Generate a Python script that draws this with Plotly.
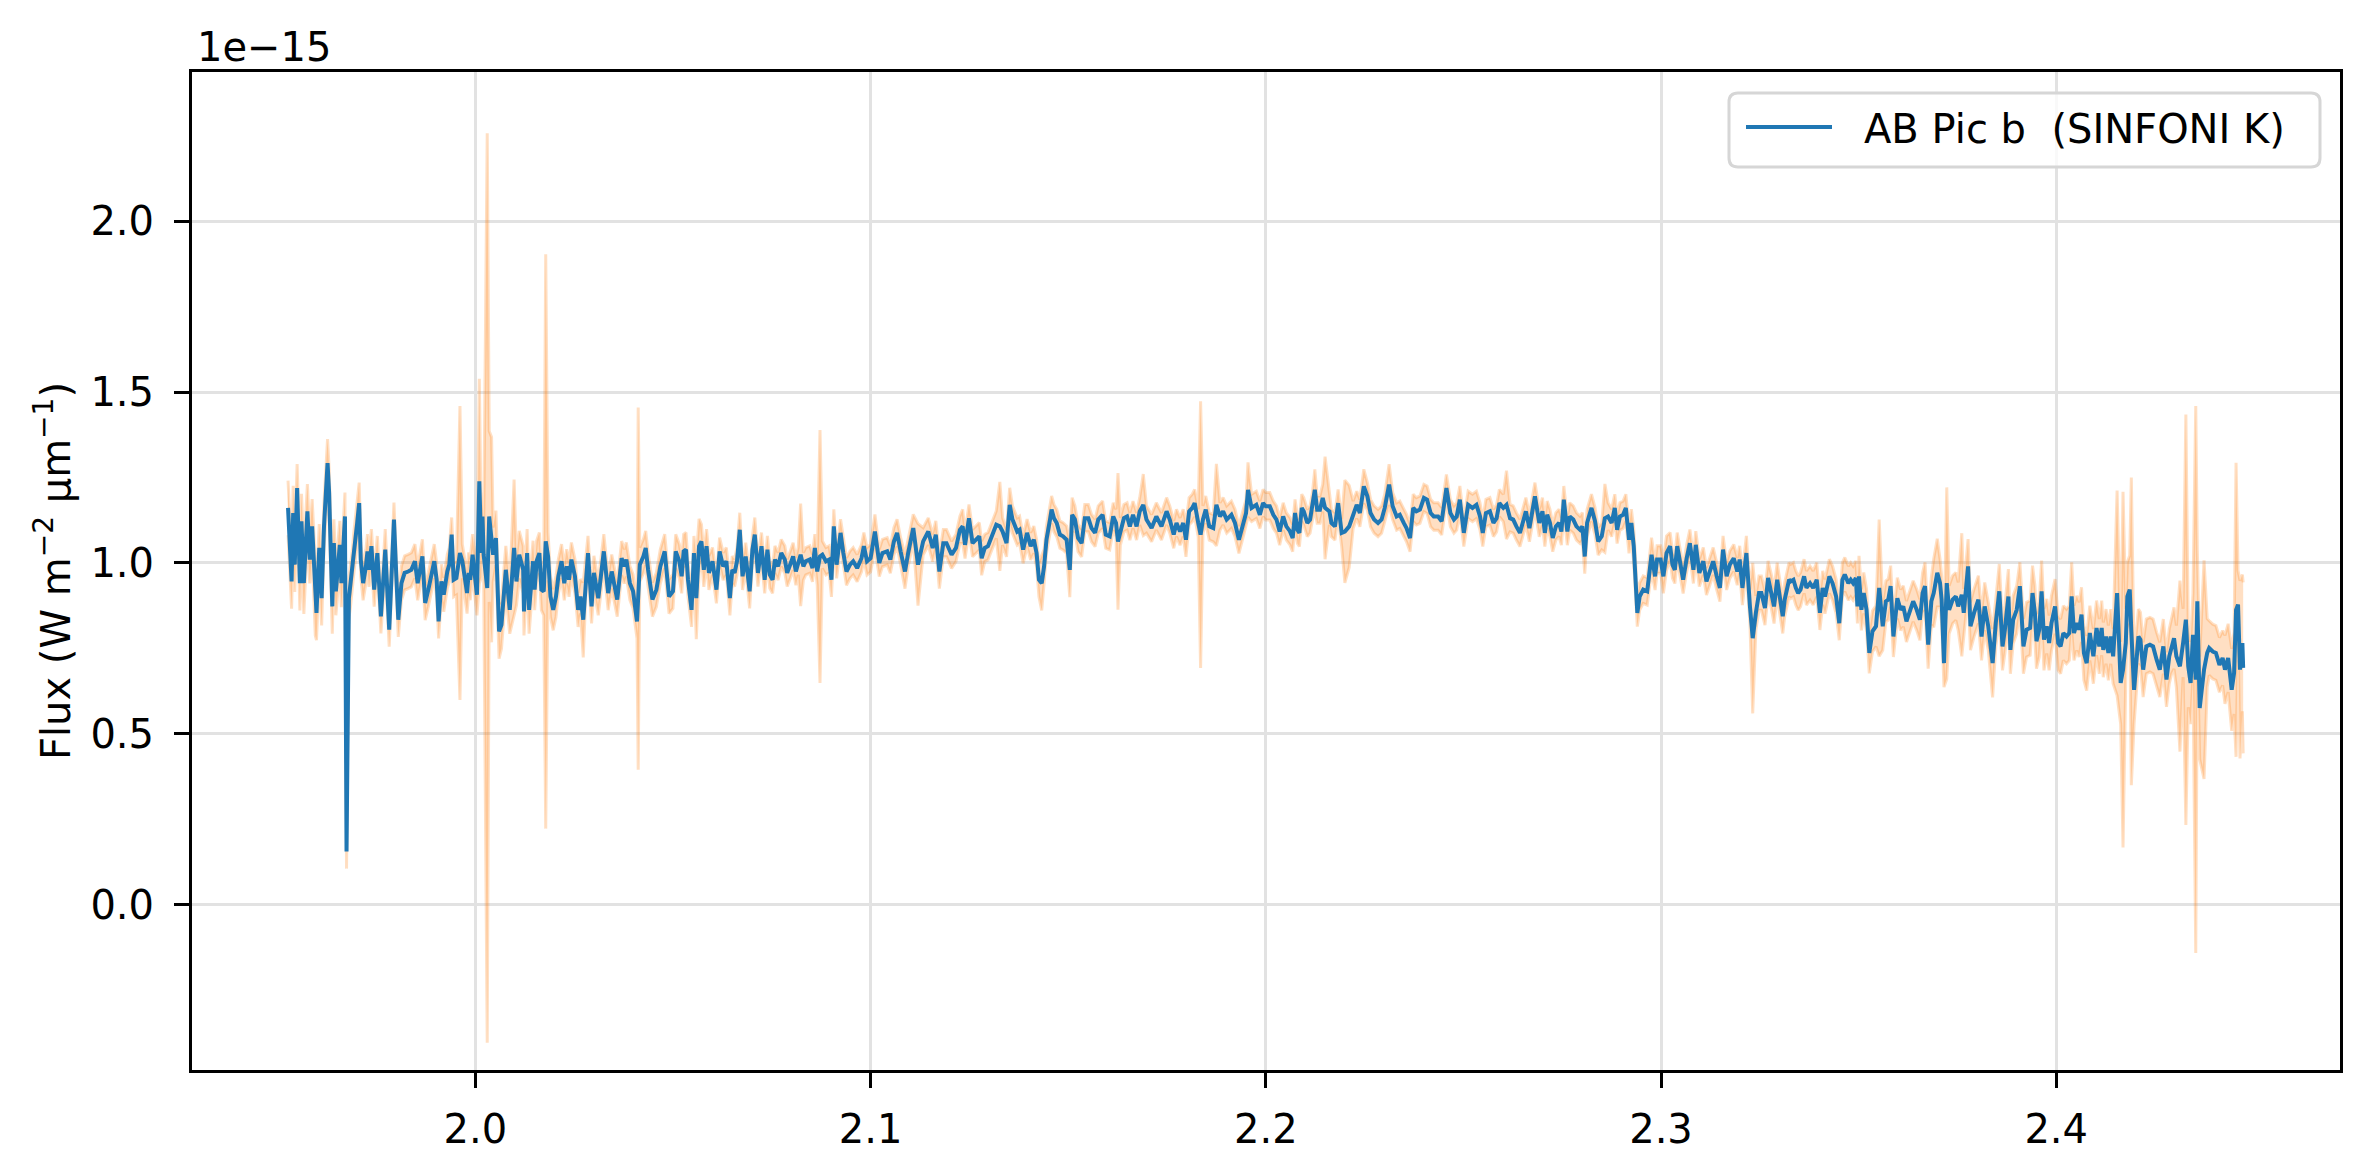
import numpy as np
import plotly.graph_objects as go

# ---------------- data (wavelength in micron, flux in units of 1e-15 W m^-2 um^-1) -------------
wl_1 = [1.9526, 1.9535, 1.9539, 1.9543, 1.9549, 1.9556, 1.9560, 1.9566, 1.9575, 1.9581,
        1.9587, 1.9595, 1.9598, 1.9605, 1.9611, 1.9617, 1.9626, 1.9630, 1.9638, 1.9642,
        1.9647, 1.9657, 1.9661, 1.9670, 1.9674, 1.9680, 1.9684, 1.9689, 1.9692, 1.9701,
        1.9706, 1.9710, 1.9716, 1.9723, 1.9727, 1.9731, 1.9737, 1.9744, 1.9752, 1.9761,
        1.9772, 1.9782, 1.9794, 1.9800, 1.9805, 1.9813, 1.9821, 1.9830, 1.9838, 1.9847,
        1.9854, 1.9866, 1.9873, 1.9881, 1.9896, 1.9902, 1.9907, 1.9914, 1.9920, 1.9929,
        1.9934, 1.9940, 1.9945, 1.9952, 1.9961, 1.9967, 1.9979, 1.9983, 1.9987, 1.9993,
        2.0004, 2.0010, 2.0015, 2.0018, 2.0021, 2.0030, 2.0035, 2.0041, 2.0045, 2.0052,
        2.0060, 2.0066, 2.0077, 2.0087, 2.0098, 2.0104, 2.0111, 2.0121, 2.0123, 2.0131,
        2.0136]
fx_1 = [1.161, 0.946, 1.146, 0.995, 1.219, 0.941, 1.122, 0.941, 1.151, 1.010,
        1.107, 0.878, 0.854, 1.044, 0.897, 1.107, 1.292, 1.205, 0.873, 1.058,
        0.917, 1.053, 0.941, 1.136, 0.156, 0.897, 0.932, 0.980, 1.024, 1.117,
        1.175, 1.010, 0.941, 0.990, 1.034, 0.980, 1.049, 0.922, 1.029, 0.844,
        1.039, 0.805, 1.127, 0.961, 0.834, 0.941, 0.971, 0.975, 0.980, 1.005,
        0.941, 1.019, 0.883, 0.922, 1.005, 0.951, 0.829, 0.946, 0.907, 0.975,
        0.995, 1.083, 0.951, 0.956, 1.029, 1.005, 0.912, 0.971, 0.951, 1.024,
        0.907, 1.239, 1.029, 1.136, 1.024, 0.927, 1.136, 1.068, 1.024, 1.073,
        0.800, 0.819, 0.980, 0.863, 1.044, 0.946, 1.024, 0.980, 0.858, 1.029,
        0.863]
er_1 = [0.08, 0.08, 0.08, 0.08, 0.07, 0.08, 0.08, 0.09, 0.08, 0.07,
        0.08, 0.09, 0.08, 0.07, 0.08, 0.07, 0.07, 0.07, 0.08, 0.07,
        0.07, 0.07, 0.07, 0.07, 0.05, 0.06, 0.06, 0.06, 0.06, 0.06,
        0.06, 0.05, 0.05, 0.05, 0.05, 0.05, 0.05, 0.05, 0.05, 0.05,
        0.06, 0.05, 0.05, 0.05, 0.05, 0.05, 0.05, 0.05, 0.05, 0.05,
        0.05, 0.05, 0.05, 0.05, 0.05, 0.05, 0.05, 0.05, 0.05, 0.05,
        0.05, 0.05, 0.05, 0.05, 0.43, 0.05, 0.06, 0.06, 0.06, 0.06,
        0.06, 0.30, 0.07, 0.07, 0.07, 1.33, 0.25, 0.30, 0.08, 0.08,
        0.08, 0.07, 0.07, 0.07, 0.20, 0.07, 0.07, 0.07, 0.07, 0.07,
        0.07]

wl_2 = [2.0146, 2.0150, 2.0155, 2.0162, 2.0167, 2.0173, 2.0178, 2.0184, 2.0190, 2.0197,
        2.0204, 2.0210, 2.0218, 2.0225, 2.0231, 2.0237, 2.0243, 2.0252, 2.0260, 2.0266,
        2.0273, 2.0280, 2.0285, 2.0294, 2.0300, 2.0311, 2.0317, 2.0325, 2.0336, 2.0345,
        2.0359, 2.0370, 2.0377, 2.0382, 2.0391, 2.0399, 2.0409, 2.0412, 2.0416, 2.0425,
        2.0431, 2.0437, 2.0448, 2.0458, 2.0468, 2.0479, 2.0490, 2.0500, 2.0507, 2.0516,
        2.0522, 2.0527, 2.0533, 2.0538, 2.0547, 2.0553, 2.0559, 2.0566, 2.0572, 2.0578,
        2.0585, 2.0591, 2.0600, 2.0610, 2.0618, 2.0627, 2.0635, 2.0644, 2.0650, 2.0656,
        2.0662, 2.0669, 2.0676, 2.0684, 2.0694, 2.0701, 2.0707, 2.0715, 2.0724, 2.0732,
        2.0739, 2.0745, 2.0752, 2.0758, 2.0766, 2.0774, 2.0783]
fx_2 = [1.005, 0.922, 1.005, 1.029, 0.922, 0.917, 1.063, 1.019, 0.902, 0.863,
        0.902, 0.961, 1.005, 0.941, 0.990, 0.951, 1.010, 0.961, 0.863, 0.902,
        0.834, 0.971, 1.029, 0.873, 0.971, 0.897, 0.951, 1.034, 0.912, 0.975,
        0.893, 1.014, 0.990, 1.010, 0.941, 0.917, 0.829, 0.925, 0.995, 1.019,
        1.044, 0.980, 0.893, 0.922, 0.990, 1.034, 0.902, 0.917, 1.034, 1.005,
        0.961, 1.034, 1.039, 0.951, 0.863, 1.029, 0.897, 1.049, 1.063, 0.980,
        1.049, 0.971, 1.005, 0.922, 1.034, 0.990, 1.005, 0.897, 0.980, 0.971,
        1.005, 1.097, 0.961, 1.019, 0.917, 1.039, 1.083, 0.971, 1.049, 0.951,
        1.039, 0.966, 0.951, 1.010, 0.990, 1.029, 1.010]
er_2 = [0.06, 0.06, 0.06, 0.06, 0.06, 0.07, 0.84, 0.07, 0.06, 0.06,
        0.06, 0.05, 0.05, 0.05, 0.05, 0.05, 0.05, 0.05, 0.05, 0.05,
        0.11, 0.05, 0.05, 0.05, 0.05, 0.05, 0.05, 0.05, 0.05, 0.05,
        0.05, 0.05, 0.05, 0.05, 0.05, 0.05, 0.05, 0.53, 0.05, 0.05,
        0.05, 0.05, 0.05, 0.05, 0.05, 0.05, 0.05, 0.05, 0.05, 0.05,
        0.05, 0.05, 0.05, 0.05, 0.05, 0.05, 0.12, 0.08, 0.05, 0.05,
        0.05, 0.05, 0.04, 0.04, 0.04, 0.04, 0.04, 0.05, 0.04, 0.04,
        0.04, 0.05, 0.04, 0.04, 0.05, 0.04, 0.05, 0.04, 0.04, 0.04,
        0.04, 0.04, 0.04, 0.04, 0.04, 0.04, 0.04]

wl_3 = [2.0789, 2.0797, 2.0804, 2.0811, 2.0817, 2.0823, 2.0830, 2.0836, 2.0846, 2.0853,
        2.0859, 2.0865, 2.0872, 2.0878, 2.0887, 2.0895, 2.0901, 2.0907, 2.0914, 2.0924,
        2.0931, 2.0939, 2.0948, 2.0956, 2.0966, 2.0977, 2.0983, 2.0991, 2.1000, 2.1011,
        2.1022, 2.1030, 2.1042, 2.1050, 2.1059, 2.1067, 2.1076, 2.1087, 2.1095, 2.1108,
        2.1120, 2.1133, 2.1146, 2.1157, 2.1165, 2.1174, 2.1184, 2.1192, 2.1205, 2.1216,
        2.1226, 2.1233, 2.1239, 2.1249, 2.1258, 2.1266, 2.1275, 2.1281, 2.1289, 2.1297,
        2.1306, 2.1318, 2.1327, 2.1334, 2.1344, 2.1352, 2.1359, 2.1371, 2.1377, 2.1386,
        2.1396, 2.1405, 2.1413, 2.1420, 2.1426]
fx_3 = [0.971, 0.995, 1.019, 0.975, 1.005, 1.024, 0.990, 1.005, 1.010, 0.985,
        1.044, 0.975, 1.019, 1.024, 1.005, 1.010, 0.951, 1.107, 0.995, 1.088,
        1.029, 0.975, 0.995, 1.005, 0.985, 1.014, 1.049, 1.005, 1.014, 1.092,
        1.000, 1.029, 1.034, 1.010, 1.063, 1.088, 1.034, 0.975, 1.029, 1.102,
        0.995, 1.063, 1.092, 1.044, 1.083, 0.975, 1.058, 1.058, 1.024, 1.044,
        1.097, 1.107, 1.053, 1.131, 1.058, 1.068, 1.078, 1.014, 1.044, 1.049,
        1.078, 1.112, 1.107, 1.092, 1.058, 1.170, 1.127, 1.092, 1.097, 1.039,
        1.088, 1.049, 1.068, 1.029, 0.951]
er_3 = [0.04, 0.04, 0.04, 0.04, 0.04, 0.15, 0.04, 0.04, 0.04, 0.04,
        0.04, 0.04, 0.37, 0.04, 0.04, 0.04, 0.05, 0.05, 0.04, 0.04,
        0.04, 0.04, 0.04, 0.04, 0.04, 0.04, 0.04, 0.04, 0.04, 0.05,
        0.04, 0.04, 0.04, 0.04, 0.04, 0.04, 0.04, 0.05, 0.04, 0.04,
        0.12, 0.04, 0.04, 0.04, 0.04, 0.05, 0.04, 0.04, 0.04, 0.04,
        0.04, 0.05, 0.04, 0.04, 0.04, 0.04, 0.04, 0.05, 0.04, 0.04,
        0.04, 0.04, 0.13, 0.04, 0.04, 0.05, 0.04, 0.04, 0.04, 0.04,
        0.04, 0.04, 0.04, 0.04, 0.05]

wl_4 = [2.1433, 2.1439, 2.1445, 2.1454, 2.1458, 2.1464, 2.1471, 2.1479, 2.1487, 2.1496,
        2.1504, 2.1510, 2.1517, 2.1525, 2.1534, 2.1542, 2.1551, 2.1559, 2.1568, 2.1576,
        2.1587, 2.1595, 2.1605, 2.1614, 2.1621, 2.1626, 2.1632, 2.1641, 2.1649, 2.1656,
        2.1664, 2.1673, 2.1681, 2.1690, 2.1698, 2.1711, 2.1723, 2.1736, 2.1749, 2.1757,
        2.1767, 2.1774, 2.1783, 2.1791, 2.1798, 2.1806, 2.1814, 2.1820, 2.1829, 2.1835,
        2.1841, 2.1848, 2.1857, 2.1867, 2.1875, 2.1884, 2.1892, 2.1901, 2.1913, 2.1922,
        2.1932, 2.1943, 2.1950, 2.1955, 2.1964, 2.1976, 2.1985, 2.1993, 2.2000, 2.2010,
        2.2019, 2.2027, 2.2035, 2.2044, 2.2052]
fx_4 = [0.941, 0.990, 1.068, 1.127, 1.156, 1.131, 1.117, 1.083, 1.078, 1.068,
        0.980, 1.141, 1.127, 1.073, 1.058, 1.131, 1.131, 1.102, 1.088, 1.127,
        1.141, 1.083, 1.078, 1.136, 1.117, 1.063, 1.092, 1.131, 1.136, 1.107,
        1.141, 1.107, 1.151, 1.170, 1.127, 1.102, 1.136, 1.107, 1.151, 1.127,
        1.083, 1.117, 1.092, 1.117, 1.068, 1.151, 1.161, 1.175, 1.117, 1.083,
        1.127, 1.156, 1.107, 1.102, 1.170, 1.136, 1.151, 1.127, 1.141, 1.117,
        1.068, 1.117, 1.146, 1.214, 1.161, 1.170, 1.141, 1.175, 1.166, 1.166,
        1.141, 1.127, 1.092, 1.136, 1.107]
er_4 = [0.08, 0.05, 0.04, 0.04, 0.04, 0.04, 0.04, 0.04, 0.04, 0.04,
        0.08, 0.05, 0.04, 0.04, 0.04, 0.04, 0.04, 0.04, 0.04, 0.04,
        0.04, 0.04, 0.04, 0.04, 0.04, 0.20, 0.04, 0.04, 0.04, 0.04,
        0.04, 0.04, 0.04, 0.09, 0.04, 0.04, 0.04, 0.04, 0.04, 0.04,
        0.04, 0.04, 0.04, 0.04, 0.05, 0.04, 0.04, 0.04, 0.04, 0.39,
        0.04, 0.04, 0.04, 0.04, 0.12, 0.04, 0.04, 0.04, 0.04, 0.04,
        0.04, 0.04, 0.04, 0.08, 0.04, 0.04, 0.04, 0.04, 0.04, 0.04,
        0.04, 0.04, 0.04, 0.04, 0.04]

wl_5 = [2.2061, 2.2068, 2.2074, 2.2080, 2.2085, 2.2091, 2.2096, 2.2105, 2.2112, 2.2118,
        2.2124, 2.2130, 2.2137, 2.2144, 2.2150, 2.2161, 2.2166, 2.2175, 2.2183, 2.2192,
        2.2200, 2.2211, 2.2221, 2.2230, 2.2238, 2.2248, 2.2257, 2.2265, 2.2274, 2.2284,
        2.2293, 2.2301, 2.2312, 2.2321, 2.2331, 2.2339, 2.2349, 2.2356, 2.2365, 2.2373,
        2.2381, 2.2390, 2.2400, 2.2408, 2.2417, 2.2425, 2.2436, 2.2445, 2.2457, 2.2467,
        2.2476, 2.2483, 2.2491, 2.2501, 2.2512, 2.2523, 2.2533, 2.2542, 2.2549, 2.2557,
        2.2567, 2.2576, 2.2584, 2.2591, 2.2601, 2.2609, 2.2618, 2.2626, 2.2634, 2.2643,
        2.2650, 2.2658, 2.2667, 2.2672, 2.2681, 2.2692]
fx_5 = [1.093, 1.073, 1.146, 1.097, 1.088, 1.161, 1.151, 1.117, 1.127, 1.166,
        1.214, 1.156, 1.156, 1.190, 1.161, 1.151, 1.117, 1.107, 1.175, 1.088,
        1.092, 1.107, 1.141, 1.170, 1.146, 1.224, 1.195, 1.146, 1.127, 1.117,
        1.127, 1.161, 1.229, 1.166, 1.136, 1.141, 1.117, 1.102, 1.073, 1.161,
        1.151, 1.156, 1.190, 1.185, 1.146, 1.136, 1.136, 1.122, 1.219, 1.146,
        1.127, 1.136, 1.185, 1.088, 1.170, 1.161, 1.170, 1.136, 1.088, 1.146,
        1.151, 1.117, 1.131, 1.175, 1.161, 1.170, 1.131, 1.127, 1.107, 1.088,
        1.117, 1.151, 1.102, 1.136, 1.195, 1.117]
er_5 = [0.04, 0.04, 0.04, 0.04, 0.04, 0.04, 0.04, 0.04, 0.04, 0.04,
        0.06, 0.04, 0.04, 0.04, 0.15, 0.04, 0.04, 0.04, 0.04, 0.04,
        0.15, 0.12, 0.04, 0.04, 0.04, 0.05, 0.04, 0.04, 0.04, 0.04,
        0.04, 0.04, 0.06, 0.04, 0.04, 0.04, 0.04, 0.04, 0.04, 0.04,
        0.04, 0.04, 0.04, 0.04, 0.04, 0.04, 0.04, 0.04, 0.04, 0.04,
        0.04, 0.04, 0.04, 0.04, 0.04, 0.04, 0.04, 0.04, 0.04, 0.04,
        0.04, 0.04, 0.04, 0.04, 0.04, 0.10, 0.04, 0.04, 0.04, 0.04,
        0.04, 0.04, 0.04, 0.04, 0.04, 0.04]

wl_6 = [2.2695, 2.2700, 2.2706, 2.2712, 2.2719, 2.2726, 2.2734, 2.2742, 2.2748, 2.2754,
        2.2763, 2.2769, 2.2778, 2.2786, 2.2795, 2.2801, 2.2807, 2.2813, 2.2824, 2.2833,
        2.2841, 2.2850, 2.2858, 2.2866, 2.2875, 2.2883, 2.2889, 2.2896, 2.2904, 2.2911,
        2.2919, 2.2925, 2.2931, 2.2936, 2.2940, 2.2946, 2.2955, 2.2965, 2.2976, 2.2985,
        2.2990, 2.2999, 2.3006, 2.3014, 2.3023, 2.3029, 2.3035, 2.3041, 2.3048, 2.3056,
        2.3065, 2.3073, 2.3082, 2.3088, 2.3097, 2.3107, 2.3115, 2.3124, 2.3132, 2.3141,
        2.3149, 2.3157, 2.3166, 2.3174, 2.3184, 2.3193, 2.3199, 2.3206, 2.3216, 2.3225,
        2.3232, 2.3240, 2.3248, 2.3254, 2.3263, 2.3271, 2.3280, 2.3286, 2.3294, 2.3301,
        2.3308, 2.3313, 2.3324]
fx_6 = [1.127, 1.151, 1.088, 1.141, 1.117, 1.073, 1.107, 1.117, 1.092, 1.185,
        1.092, 1.136, 1.127, 1.107, 1.097, 1.107, 1.019, 1.117, 1.161, 1.122,
        1.063, 1.078, 1.131, 1.136, 1.117, 1.161, 1.097, 1.136, 1.141, 1.161,
        1.068, 1.117, 1.049, 0.951, 0.854, 0.902, 0.922, 0.917, 1.024, 0.961,
        1.010, 1.010, 0.961, 1.029, 1.049, 0.995, 0.980, 1.049, 1.005, 0.951,
        1.014, 1.058, 0.980, 1.053, 0.971, 1.005, 0.946, 0.980, 1.005, 0.961,
        0.927, 1.039, 0.961, 0.995, 1.014, 0.975, 1.010, 0.927, 1.029, 0.873,
        0.780, 0.854, 0.912, 0.912, 0.868, 0.956, 0.912, 0.873, 0.951, 0.897,
        0.844, 0.893, 0.951]
er_6 = [0.04, 0.04, 0.04, 0.04, 0.04, 0.04, 0.04, 0.04, 0.04, 0.04,
        0.04, 0.04, 0.04, 0.04, 0.04, 0.04, 0.05, 0.04, 0.04, 0.04,
        0.04, 0.04, 0.10, 0.04, 0.04, 0.04, 0.04, 0.04, 0.04, 0.04,
        0.04, 0.04, 0.05, 0.05, 0.04, 0.04, 0.04, 0.04, 0.05, 0.04,
        0.04, 0.04, 0.05, 0.05, 0.04, 0.04, 0.04, 0.04, 0.04, 0.04,
        0.04, 0.04, 0.04, 0.04, 0.04, 0.04, 0.04, 0.04, 0.04, 0.04,
        0.04, 0.04, 0.04, 0.04, 0.04, 0.04, 0.04, 0.05, 0.05, 0.05,
        0.22, 0.05, 0.05, 0.05, 0.05, 0.05, 0.05, 0.05, 0.05, 0.05,
        0.05, 0.05, 0.05]

wl_7 = [2.3328, 2.3335, 2.3341, 2.3347, 2.3353, 2.3362, 2.3368, 2.3377, 2.3385, 2.3394,
        2.3402, 2.3409, 2.3415, 2.3426, 2.3434, 2.3443, 2.3451, 2.3459, 2.3465, 2.3474,
        2.3480, 2.3486, 2.3493, 2.3497, 2.3501, 2.3507, 2.3513, 2.3520, 2.3527, 2.3535,
        2.3544, 2.3552, 2.3561, 2.3569, 2.3575, 2.3581, 2.3588, 2.3598, 2.3606, 2.3613,
        2.3621, 2.3631, 2.3638, 2.3647, 2.3655, 2.3662, 2.3668, 2.3676, 2.3684, 2.3690,
        2.3699, 2.3706, 2.3710, 2.3716, 2.3723, 2.3729, 2.3738, 2.3746, 2.3752, 2.3761,
        2.3766, 2.3777, 2.3783, 2.3792, 2.3803, 2.3811, 2.3819, 2.3828, 2.3839, 2.3847,
        2.3856, 2.3864, 2.3870, 2.3879, 2.3884, 2.3891, 2.3900, 2.3908]
fx_7 = [0.946, 0.951, 0.927, 0.912, 0.922, 0.961, 0.927, 0.941, 0.927, 0.951,
        0.854, 0.927, 0.902, 0.961, 0.941, 0.902, 0.824, 0.951, 0.966, 0.941,
        0.951, 0.941, 0.956, 0.873, 0.961, 0.863, 0.912, 0.863, 0.737, 0.800,
        0.815, 0.927, 0.815, 0.888, 0.893, 0.932, 0.785, 0.897, 0.863, 0.873,
        0.829, 0.863, 0.888, 0.863, 0.834, 0.912, 0.932, 0.761, 0.888, 0.912,
        0.971, 0.941, 0.893, 0.707, 0.941, 0.863, 0.893, 0.902, 0.873, 0.907,
        0.854, 0.990, 0.815, 0.854, 0.893, 0.785, 0.873, 0.815, 0.707, 0.824,
        0.917, 0.756, 0.805, 0.902, 0.746, 0.834, 0.863, 0.932]
er_7 = [0.05, 0.05, 0.05, 0.05, 0.05, 0.05, 0.05, 0.05, 0.05, 0.05,
        0.05, 0.05, 0.05, 0.05, 0.05, 0.05, 0.05, 0.05, 0.05, 0.05,
        0.05, 0.05, 0.05, 0.05, 0.06, 0.06, 0.06, 0.06, 0.06, 0.06,
        0.06, 0.20, 0.07, 0.06, 0.06, 0.06, 0.06, 0.06, 0.06, 0.06,
        0.06, 0.06, 0.06, 0.06, 0.06, 0.06, 0.07, 0.07, 0.07, 0.10,
        0.10, 0.07, 0.07, 0.07, 0.28, 0.07, 0.07, 0.07, 0.07, 0.18,
        0.07, 0.08, 0.07, 0.07, 0.07, 0.07, 0.07, 0.07, 0.10, 0.07,
        0.08, 0.07, 0.07, 0.08, 0.07, 0.07, 0.07, 0.07]

wl_8 = [2.3917, 2.3925, 2.3934, 2.3940, 2.3946, 2.3950, 2.3957, 2.3963, 2.3969, 2.3976,
        2.3982, 2.3988, 2.3997, 2.4005, 2.4011, 2.4018, 2.4026, 2.4033, 2.4039, 2.4045,
        2.4052, 2.4058, 2.4064, 2.4070, 2.4077, 2.4085, 2.4094, 2.4102, 2.4109, 2.4115,
        2.4119, 2.4126, 2.4132, 2.4138, 2.4144, 2.4154, 2.4163, 2.4169, 2.4176, 2.4180,
        2.4186, 2.4190, 2.4197, 2.4208, 2.4213, 2.4220, 2.4228, 2.4237, 2.4245, 2.4254,
        2.4262, 2.4271, 2.4279, 2.4286, 2.4292, 2.4298, 2.4304, 2.4313, 2.4321, 2.4328,
        2.4334, 2.4340, 2.4346, 2.4353, 2.4357, 2.4363, 2.4374, 2.4382, 2.4387, 2.4396,
        2.4404, 2.4413, 2.4421, 2.4427, 2.4435, 2.4444, 2.4450, 2.4455, 2.4460, 2.4465,
        2.4471, 2.4473]
fx_8 = [0.756, 0.805, 0.810, 0.912, 0.854, 0.771, 0.805, 0.917, 0.776, 0.815,
        0.766, 0.824, 0.873, 0.766, 0.756, 0.795, 0.785, 0.795, 0.902, 0.795,
        0.824, 0.805, 0.849, 0.737, 0.707, 0.795, 0.727, 0.810, 0.756, 0.810,
        0.746, 0.785, 0.737, 0.785, 0.727, 0.912, 0.649, 0.688, 0.766, 0.902,
        0.922, 0.800, 0.629, 0.785, 0.776, 0.688, 0.756, 0.761, 0.756, 0.717,
        0.688, 0.756, 0.659, 0.727, 0.756, 0.780, 0.727, 0.698, 0.766, 0.834,
        0.698, 0.649, 0.790, 0.659, 0.888, 0.576, 0.688, 0.737, 0.751, 0.741,
        0.737, 0.702, 0.722, 0.688, 0.722, 0.629, 0.678, 0.863, 0.878, 0.688,
        0.766, 0.693]
er_8 = [0.08, 0.08, 0.08, 0.08, 0.08, 0.08, 0.08, 0.09, 0.09, 0.08,
        0.08, 0.08, 0.08, 0.08, 0.08, 0.08, 0.08, 0.08, 0.10, 0.08,
        0.08, 0.08, 0.08, 0.08, 0.08, 0.08, 0.08, 0.08, 0.08, 0.08,
        0.08, 0.08, 0.08, 0.08, 0.08, 0.30, 0.12, 0.52, 0.10, 0.10,
        0.10, 0.45, 0.10, 0.08, 0.08, 0.08, 0.08, 0.08, 0.08, 0.08,
        0.08, 0.08, 0.08, 0.08, 0.08, 0.09, 0.09, 0.25, 0.10, 0.60,
        0.12, 0.12, 0.12, 0.80, 0.15, 0.15, 0.32, 0.10, 0.08, 0.08,
        0.08, 0.08, 0.08, 0.10, 0.10, 0.12, 0.12, 0.43, 0.10, 0.26,
        0.20, 0.25]

x_ticks = [2.0, 2.1, 2.2, 2.3, 2.4]
y_ticks = [0.0, 0.5, 1.0, 1.5, 2.0]
series_name = "AB Pic b\u00a0 (SINFONI K)"
y_label = "Flux (W m<sup>\u22122</sup> \u03bcm<sup>\u22121</sup>)"
offset_label = "1e\u221215"

# ---------------- assemble ----------------
wl = np.concatenate([wl_1, wl_2, wl_3, wl_4, wl_5, wl_6, wl_7, wl_8])
fx = np.concatenate([fx_1, fx_2, fx_3, fx_4, fx_5, fx_6, fx_7, fx_8])
er = np.concatenate([er_1, er_2, er_3, er_4, er_5, er_6, er_7, er_8])
lo = fx - er
hi = fx + er

BLUE = "#1f77b4"
BAND = "rgba(255,127,14,0.25)"
FONT = "DejaVu Sans"
FS = 40

W, H = 2370, 1170
L, R, T, B = 192, 2340, 72, 1070
PW, PH = R - L, B - T


def px(xp):
    return (xp - L) / PW


def py(yp):
    return (B - yp) / PH


fig = go.Figure()
fig.add_trace(go.Scatter(x=wl, y=lo, mode="lines", line=dict(color=BAND, width=3),
                         showlegend=False, hoverinfo="skip"))
fig.add_trace(go.Scatter(x=wl, y=hi, mode="lines", line=dict(color=BAND, width=3),
                         fill="tonexty", fillcolor=BAND, showlegend=False, hoverinfo="skip"))
fig.add_trace(go.Scatter(x=wl, y=fx, mode="lines", line=dict(color=BLUE, width=4),
                         name=series_name, showlegend=False))

axis_common = dict(
    showline=True, mirror=True, linecolor="black", linewidth=3,
    ticks="outside", ticklen=15, tickwidth=3, tickcolor="black",
    showgrid=True, gridcolor="#e2e2e2", gridwidth=3, zeroline=False,
    tickfont=dict(family=FONT, size=FS, color="black"),
)

fig.update_layout(
    width=W, height=H,
    margin=dict(l=L, r=W - R, t=T, b=H - B, pad=0),
    paper_bgcolor="white", plot_bgcolor="white",
    font=dict(family=FONT, size=FS, color="black"),
    showlegend=False,
    xaxis=dict(range=[1.9283, 2.4718], tickvals=x_ticks, tickformat=".1f",
               ticklabelstandoff=7, **axis_common),
    yaxis=dict(range=[-0.483, 2.436], tickvals=y_ticks, tickformat=".1f",
               ticklabelstandoff=12, **axis_common),
)

# y-axis label and offset text
fig.add_annotation(text=y_label, xref="paper", yref="paper", x=px(53), y=0.5,
                   xanchor="center", yanchor="middle", textangle=-90, showarrow=False,
                   font=dict(family=FONT, size=FS, color="black"))
fig.add_annotation(text=offset_label, xref="paper", yref="paper", x=px(195), y=1.0,
                   xanchor="left", yanchor="bottom", yshift=0, showarrow=False,
                   font=dict(family=FONT, size=FS, color="black"))

# legend (matplotlib style box)
bx0, bx1, by0, by1, rr = 1729, 2320, 93, 167, 9
rx, ry = rr / PW, rr / PH
X0, X1, Y0, Y1 = px(bx0), px(bx1), py(by1), py(by0)
path = (f"M {X0+rx},{Y0} L {X1-rx},{Y0} Q {X1},{Y0} {X1},{Y0+ry} "
        f"L {X1},{Y1-ry} Q {X1},{Y1} {X1-rx},{Y1} L {X0+rx},{Y1} "
        f"Q {X0},{Y1} {X0},{Y1-ry} L {X0},{Y0+ry} Q {X0},{Y0} {X0+rx},{Y0} Z")
fig.add_shape(type="path", path=path, xref="paper", yref="paper",
              line=dict(color="#d6d6d6", width=3), fillcolor="rgba(255,255,255,0.8)")
fig.add_shape(type="line", xref="paper", yref="paper", x0=px(1746), x1=px(1832),
              y0=py(127), y1=py(127), line=dict(color=BLUE, width=4))
fig.add_annotation(text=series_name, xref="paper", yref="paper", x=px(1862), y=py(129),
                   xanchor="left", yanchor="middle", showarrow=False,
                   font=dict(family=FONT, size=FS, color="black"))

fig.write_html("out.html")
